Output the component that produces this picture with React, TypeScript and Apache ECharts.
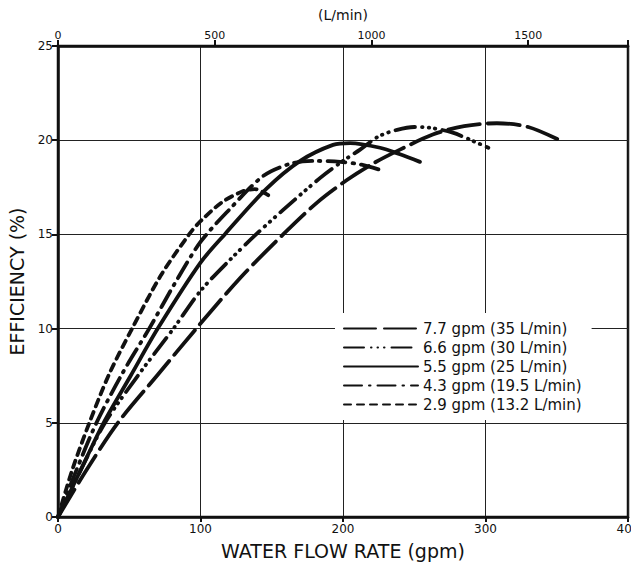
import React, { useEffect, useRef } from "react";
import * as echarts from "echarts";

// Flow rate (gpm, bottom axis) vs efficiency (%)
const GPM_TO_LPM = 4.546; // imperial gallon
const xTicksGpm = [0, 100, 200, 300, 400];
const yTicks = [0, 5, 10, 15, 20, 25];
const topTicksLpm = [0, 500, 1000, 1500];

const seriesNames = [
  "7.7 gpm (35 L/min)",
  "6.6 gpm (30 L/min)",
  "5.5 gpm (25 L/min)",
  "4.3 gpm (19.5 L/min)",
  "2.9 gpm (13.2 L/min)",
];

const flow77 = [0, 20, 42, 70, 97, 128, 158, 182, 203, 222, 240, 263, 285, 308, 330, 352];
const eff77 = [0, 2.5, 5, 7.55, 10, 12.7, 15, 16.7, 17.9, 18.8, 19.5, 20.3, 20.75, 20.9, 20.7, 20.0];

const flow66 = [0, 16, 33, 57, 81, 100, 120, 139, 158, 184, 200, 212, 225, 238, 250, 262, 277, 290, 302];
const eff66 = [0, 2.5, 5, 7.6, 10, 12, 13.6, 15, 16.3, 18.0, 18.9, 19.5, 20.2, 20.55, 20.7, 20.65, 20.4, 20.0, 19.6];

const flow55 = [0, 16, 32, 51, 70, 100, 117, 146, 170, 193, 205, 226, 240, 254];
const eff55 = [0, 2.5, 5, 7.5, 10, 13.5, 15, 17.4, 18.9, 19.75, 19.85, 19.6, 19.25, 18.85];

const flow43 = [0, 13, 27, 45, 64, 82, 100, 120, 144, 163, 180, 198, 213, 227];
const eff43 = [0, 2.5, 5, 7.6, 10, 12.4, 14.6, 16.3, 18.1, 18.75, 18.9, 18.85, 18.7, 18.4];

const flow29 = [0, 10, 22, 36, 52, 72, 92, 100, 115, 130, 138, 145, 151];
const eff29 = [0, 2.5, 5, 7.6, 10, 12.8, 15, 15.7, 16.7, 17.3, 17.4, 17.2, 16.9];

const flows = [flow77, flow66, flow55, flow43, flow29];
const effs = [eff77, eff66, eff55, eff43, eff29];
const dashes: (number[] | "solid")[] = [
  [32, 8],
  [20, 7, 0.5, 6, 0.5, 6, 0.5, 7],
  "solid",
  [18, 7, 1.5, 7],
  [7, 6],
];

const FONT = "DejaVu Sans";
const INK = "#111";

export default function App() {
  const ref = useRef<HTMLDivElement>(null);
  useEffect(() => {
    if (!ref.current) return;
    const chart = echarts.init(ref.current, undefined, { renderer: "svg" });
    const maxGpm = xTicksGpm[xTicksGpm.length - 1];
    const series = seriesNames.map((name, i) => ({
      name,
      type: "line",
      xAxisIndex: 0,
      yAxisIndex: 0,
      data: flows[i].map((x, k) => [x, effs[i][k]]),
      smooth: 0.3,
      showSymbol: false,
      symbol: "none",
      lineStyle: { color: INK, width: 3.8, type: dashes[i], cap: "round", join: "round" },
      itemStyle: { color: INK },
      z: 5,
    }));
    chart.setOption({
      animation: false,
      backgroundColor: "#fff",
      textStyle: { fontFamily: FONT, color: INK },
      grid: {
        left: 58,
        right: 3,
        top: 46,
        bottom: 47,
        containLabel: false,
        outerBoundsMode: "none",
        show: true,
        borderColor: INK,
        borderWidth: 2.5,
        backgroundColor: "transparent",
      },
      legend: {
        orient: "vertical",
        left: 335,
        top: 313,
        backgroundColor: "#fff",
        padding: [8, 10, 8, 8],
        itemWidth: 74,
        itemHeight: 14,
        itemGap: 4,
        itemStyle: { opacity: 0 },
        textStyle: { fontFamily: FONT, fontSize: 15, color: INK },
        data: seriesNames,
      },
      xAxis: [
        {
          type: "value",
          position: "bottom",
          min: xTicksGpm[0],
          max: maxGpm,
          interval: 100,
          name: "WATER FLOW RATE (gpm)",
          nameLocation: "middle",
          nameGap: 24,
          nameTextStyle: { fontFamily: FONT, fontSize: 19, color: INK },
          axisLine: { show: true, lineStyle: { color: INK, width: 2.5 } },
          axisTick: { show: true, length: 5, lineStyle: { color: INK, width: 2 } },
          axisLabel: { fontFamily: FONT, fontSize: 12, color: INK, margin: 6 },
          splitLine: { show: true, lineStyle: { color: "#222", width: 1 } },
        },
        {
          type: "value",
          position: "top",
          min: 0,
          max: maxGpm * GPM_TO_LPM,
          interval: 500,
          name: "(L/min)",
          nameLocation: "middle",
          nameGap: 24,
          nameTextStyle: { fontFamily: FONT, fontSize: 14, color: INK },
          axisLine: { show: true, lineStyle: { color: INK, width: 2.5 } },
          axisTick: {
            show: true,
            length: 6,
            lineStyle: { color: INK, width: 2 },
            interval: (idx: number, v: number) => topTicksLpm.includes(Number(v)),
          },
          axisLabel: {
            fontFamily: FONT,
            fontSize: 11,
            color: INK,
            margin: 5,
            formatter: (v: number) => (topTicksLpm.includes(Math.round(v)) ? String(Math.round(v)) : ""),
          },
          splitLine: { show: false },
        },
      ],
      yAxis: [
        {
          type: "value",
          min: yTicks[0],
          max: yTicks[yTicks.length - 1],
          interval: 5,
          name: "EFFICIENCY (%)",
          nameLocation: "middle",
          nameRotate: 90,
          nameGap: 30,
          nameTextStyle: { fontFamily: FONT, fontSize: 19, color: INK },
          axisLine: { show: true, lineStyle: { color: INK, width: 2.5 } },
          axisTick: { show: true, length: 6, lineStyle: { color: INK, width: 2 } },
          axisLabel: { fontFamily: FONT, fontSize: 12, color: INK, margin: 5 },
          splitLine: { show: true, lineStyle: { color: "#222", width: 1 } },
        },
      ],
      series,
    });
    return () => chart.dispose();
  }, []);
  return (
    <div
      ref={ref}
      style={{ position: "absolute", left: 0, top: 0, width: 631, height: 564 }}
    />
  );
}
